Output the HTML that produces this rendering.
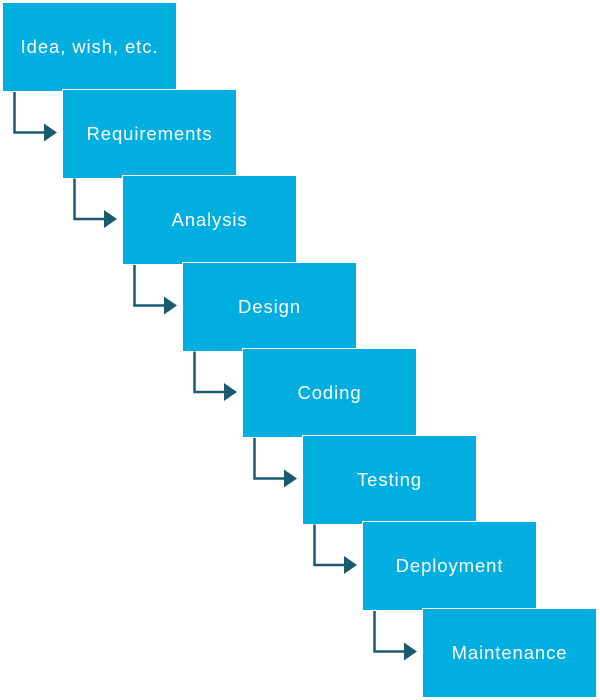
<!DOCTYPE html>
<html><head><style>
html,body{margin:0;padding:0;background:#fff;}
body{width:600px;height:700px;position:relative;overflow:hidden;font-family:"Liberation Sans",sans-serif;}
.b{position:absolute;width:173px;height:88px;background:#00aee0;color:#fff;font-size:18.5px;letter-spacing:0.9px;display:flex;align-items:center;justify-content:center;box-shadow:0 0 0 1px #fff;}
svg{position:absolute;left:0;top:0;}
</style></head><body>
<div class="b" style="left:3px;top:3px">Idea, wish, etc.</div>
<div class="b" style="left:63px;top:90px">Requirements</div>
<div class="b" style="left:123px;top:176px">Analysis</div>
<div class="b" style="left:183px;top:263px">Design</div>
<div class="b" style="left:243px;top:349px">Coding</div>
<div class="b" style="left:303px;top:436px">Testing</div>
<div class="b" style="left:363px;top:522px">Deployment</div>
<div class="b" style="left:423px;top:609px">Maintenance</div>
<svg width="600" height="700">
<g fill="none" stroke="#1b5b6f" stroke-width="2.5">
<path d="M14.5 92 V132.5 H46"/>
<path d="M74.5 178.5 V219 H106"/>
<path d="M134.5 265 V305.5 H166"/>
<path d="M194.5 351.5 V392 H226"/>
<path d="M254.5 438 V478.5 H286"/>
<path d="M314.5 524.5 V565 H346"/>
<path d="M374.5 611 V651.5 H406"/>
</g>
<g fill="#1b5b6f">
<path d="M44 123.5 L57 132.5 L44 141.5Z"/>
<path d="M104 210 L117 219 L104 228Z"/>
<path d="M164 296.5 L177 305.5 L164 314.5Z"/>
<path d="M224 383 L237 392 L224 401Z"/>
<path d="M284 469.5 L297 478.5 L284 487.5Z"/>
<path d="M344 556 L357 565 L344 574Z"/>
<path d="M404 642.5 L417 651.5 L404 660.5Z"/>
</g>
</svg>
</body></html>
